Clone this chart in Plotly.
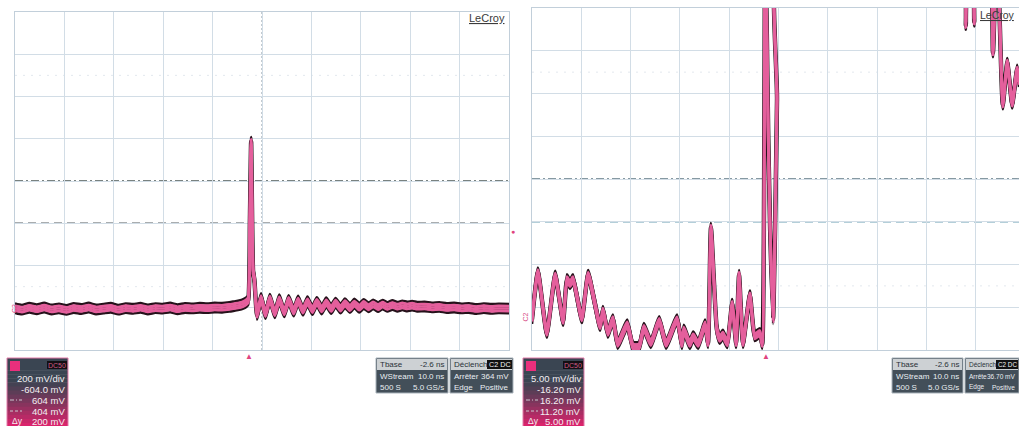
import plotly.graph_objects as go

W, H = 1019, 426

# ---------------- data ----------------
# Left screen: C2, 200 mV/div, offset -604 mV, 10 ns/div
left_time_ns = [-47.4, -46.0, -44.5, -43.0, -41.5, -40.0, -38.5, -37.0, -35.5, -34.0,
                -32.5, -31.0, -29.5, -28.0, -26.5, -25.0, -23.5, -22.0, -20.5, -19.0,
                -17.5, -16.0, -14.5, -13.0, -11.5, -10.0, -8.5, -7.0, -5.5, -4.0,
                -3.0, -2.0, -1.2, -0.6, -0.2, 0.15, 0.4, 0.8, 1.05, 1.6,
                2.4, 3.3, 4.2, 5.2, 6.1, 7.1, 8.0, 9.0, 9.9, 10.9,
                11.8, 12.8, 13.7, 14.7, 15.6, 16.6, 17.5, 18.5, 19.4, 20.4,
                21.3, 22.3, 23.2, 24.2, 25.1, 26.1, 27.0, 28.0, 29.0, 30.0,
                31.0, 32.0, 33.0, 34.0, 35.5, 37.0, 38.5, 40.0, 41.5, 43.0,
                44.5, 46.0, 47.5, 49.0, 50.5, 52.6]
left_mv = [2, -5, 4, -3, 5, -4, 1, -6, 3, -2,
           5, -4, 0, 4, -5, 2, -1, 4, -4, 2,
           0, 5, -3, 3, 1, 4, 2, 5, 4, 8,
           12, 16, 22, 30, 40, 420, 790, 175, 140, -30,
           50, -26, 47, -22, 44, -18, 41, -14, 38, -10,
           35, -7, 32, -4, 30, -2, 28, 0, 26, 2,
           24, 4, 22, 6, 20, 7, 19, 8, 17, 9,
           15, 10, 14, 9, 10, 6, 8, 3, 5, 1,
           3, -2, 2, -1, 1, 0]

# Right screen: C2, 5.00 mV/div, offset -16.20 mV, 10 ns/div (trace leaves the top of the screen)
right_time_ns = [-47.4, -46.2, -44.4, -42.7, -41.1, -40.3, -39.7, -39.1, -37.3, -36.0,
                 -33.6, -33.0, -32.0, -31.0, -30.0, -28.1, -26.9, -25.7, -24.7, -23.3,
                 -21.6, -20.2, -18.0, -17.0, -16.6, -15.4, -14.7, -13.7, -12.3, -11.7,
                 -11.1, -9.9, -9.3, -8.7, -7.8, -6.8, -6.0, -5.4, -4.6, -3.2,
                 -2.2, -1.2, -0.7, -0.1, 0.5, 0.9, 1.5, 1.9, 2.3, 2.7,
                 17.1, 37.4, 40.2, 40.6, 41.0, 41.8, 42.3, 42.7, 45.1, 46.1,
                 46.9, 48.1, 49.0, 50.0, 51.0, 51.4]
right_mv = [-0.2, 5.3, -1.8, 4.9, -0.4, 4.5, 3.9, 4.5, -0.1, 5.0,
            -1.0, 0.8, -1.8, -0.2, -3.1, -0.8, -3.4, -3.4, -1.2, -3.0,
            -0.4, -3.1, -0.2, -3.1, -1.4, -3.1, -2.2, -3.1, -0.8, -3.0,
            10.5, -1.4, -2.5, -2.0, -3.0, 1.6, -3.0, 5.0, -3.0, 2.6,
            -2.2, -1.8, -3.1, 45, 22.0, 10.3, -0.2, 10.3, 25.5, 45,
            45, 45, 45, 34.2, 45, 45, 34.6, 45, 45, 31.0,
            45, 24.9, 29.8, 25.0, 29.0, 27.5]

left_cursors_mv = [604, 404]
right_cursors_mv = [16.2, 11.2]
left_trigger_level_mv = 364
trigger_time_ns = 0.0
center_time_ns = 2.6
ns_per_div = 10
left_mv_per_div, left_center_mv = 200, 604
right_mv_per_div, right_center_mv = 5.0, 16.2

left_channel_text = ["200 mV/div", "-604.0 mV", "604 mV", "404 mV", "200 mV"]
right_channel_text = ["5.00 mV/div", "-16.20 mV", "16.20 mV", "11.20 mV", "5.00 mV"]
timebase_rows = [("Tbase", "-2.6 ns"), ("WStream", "10.0 ns"), ("500 S", "5.0 GS/s")]
left_trigger_rows = [("Déclench", ""), ("Arrêter", "364 mV"), ("Edge", "Positive")]
right_trigger_rows = [("Déclench", ""), ("Arrête", "36.70 mV"), ("Edge", "Positive")]

# ---------------- helpers ----------------
FONT = "Liberation Sans, Arial, sans-serif"
PINK = "#e45f9c"
DARK = "#26121b"


def px(x):
    return x / W


def py(y):
    return 1 - y / H


fig = go.Figure()


def add_band(t, v, d, xa, ya):
    layers = [
        ([a + d for a in v], DARK, 2.6),
        ([a - d for a in v], DARK, 2.6),
        (v, DARK, 4.4),
        ([a + d / 2 for a in v], PINK, 3.0),
        ([a - d / 2 for a in v], PINK, 3.0),
        (v, PINK, 2.4),
    ]
    for yy, c, w in layers:
        fig.add_trace(go.Scatter(x=t, y=yy, mode="lines",
                                 line=dict(color=c, width=w, shape="spline", smoothing=0.5),
                                 xaxis=xa, yaxis=ya, hoverinfo="skip", showlegend=False))


add_band(left_time_ns, left_mv, 0.11 * left_mv_per_div, "x", "y")
add_band(right_time_ns, right_mv, 0.11 * right_mv_per_div, "x2", "y2")

GRID = "#d2dde6"
FRAME = "#c2cfda"
common = dict(showgrid=True, gridcolor=GRID, gridwidth=1, zeroline=False,
              showticklabels=False, ticks="", showline=True, linecolor=FRAME,
              linewidth=1, mirror=True, fixedrange=True)

lx0 = center_time_ns - 5 * ns_per_div
fig.update_layout(
    width=W, height=H, margin=dict(l=0, r=0, t=0, b=0),
    paper_bgcolor="white", plot_bgcolor="white", showlegend=False,
    xaxis=dict(domain=[px(15), px(509)], range=[lx0, lx0 + 10 * ns_per_div],
               tick0=lx0, dtick=ns_per_div, anchor="y", **common),
    yaxis=dict(domain=[py(350), py(12)],
               range=[left_center_mv - 4 * left_mv_per_div, left_center_mv + 4 * left_mv_per_div],
               tick0=left_center_mv - 4 * left_mv_per_div, dtick=left_mv_per_div, anchor="x", **common),
    xaxis2=dict(domain=[px(532), 1.0], range=[lx0, lx0 + 487 / 49.3 * ns_per_div],
                tick0=lx0, dtick=ns_per_div, anchor="y2", **common),
    yaxis2=dict(domain=[py(350), py(8)],
                range=[right_center_mv - 4 * right_mv_per_div, right_center_mv + 4 * right_mv_per_div],
                tick0=right_center_mv - 4 * right_mv_per_div, dtick=right_mv_per_div, anchor="x2", **common),
)

# cursors
cursor_dash = ["8px,3px,2px,3px", "8px,5px"]
for xa, ya, vals, cols in (("x", "y", left_cursors_mv, ["#4e5a57", "#555c60"]),
                           ("x2", "y2", right_cursors_mv, ["#5f7884", "#6b9fb3"])):
    for v, c, st in zip(vals, cols, cursor_dash):
        fig.add_shape(type="line", xref=f"{xa} domain", x0=0, x1=1, yref=ya, y0=v, y1=v,
                      line=dict(color=c, width=1.4, dash=st), layer="below")
    fig.add_shape(type="line", xref=xa, x0=center_time_ns, x1=center_time_ns,
                  yref=f"{ya} domain", y0=0, y1=1,
                  line=dict(color="#8796a2", width=1, dash="2px,2px"), layer="below")

# faint dotted rows (scan artefact)
for xa, ya, c0, pdiv in (("x", "y", left_center_mv, left_mv_per_div),
                         ("x2", "y2", right_center_mv, right_mv_per_div)):
    for v in (c0 + 2.5 * pdiv, c0 - 2.5 * pdiv):
        fig.add_shape(type="line", xref=f"{xa} domain", x0=0, x1=1, yref=ya, y0=v, y1=v,
                      line=dict(color="#e3e8ee", width=1, dash="2px,6px"), layer="below")


def txt(x, y, s, color="#f0f0f0", size=8.0, anchor="left", xref="paper", yref="paper", angle=0):
    fig.add_annotation(x=x, y=y, xref=xref, yref=yref, text=s, showarrow=False,
                       xanchor=anchor, yanchor="middle", textangle=angle,
                       font=dict(family=FONT, size=size, color=color))


def rect(x0, y0, x1, y1, fill, line=None, lw=0):
    fig.add_shape(type="rect", xref="paper", yref="paper",
                  x0=px(x0), x1=px(x1), y0=py(y1), y1=py(y0), fillcolor=fill,
                  line=dict(color=line or fill, width=lw), layer="above")


# LeCroy logos
fig.add_annotation(x=px(507), y=py(18), xref="paper", yref="paper", text="<u>LeCroy</u>",
                   showarrow=False, xanchor="right", yanchor="middle",
                   font=dict(family=FONT, size=11, color="#3b3b3b"))
fig.add_annotation(x=px(1017), y=py(15), xref="paper", yref="paper", text="<u>LeCroy</u>",
                   showarrow=False, xanchor="right", yanchor="middle",
                   font=dict(family=FONT, size=10.5, color="#3b3b3b"))

# trigger position triangles and level marker
for xa in ("x", "x2"):
    fig.add_annotation(x=trigger_time_ns, y=py(355), xref=xa, yref="paper", text="▲",
                       showarrow=False, font=dict(size=8, color="#e0447f"), yanchor="middle")
fig.add_annotation(x=px(513), y=left_trigger_level_mv, xref="paper", yref="y", text="●",
                   showarrow=False, font=dict(size=7, color="#e0447f"))
# ground markers
fig.add_annotation(x=px(9), y=0, xref="paper", yref="y", text="C2", textangle=-90, showarrow=False,
                   font=dict(family=FONT, size=7, color="#d8508a"))
fig.add_annotation(x=px(526), y=0, xref="paper", yref="y2", text="C2", textangle=-90, showarrow=False,
                   font=dict(family=FONT, size=7, color="#d8508a"))


def channel_box(x0, lines):
    x1 = x0 + 61
    y0, y1 = 358, 427
    n = 17
    top = (58, 69, 82)
    bot = (218, 36, 108)
    for i in range(n):
        ya = y0 + (y1 - y0) * i / n
        yb = y0 + (y1 - y0) * (i + 1) / n + 0.5
        g = max(0.0, (i / (n - 1) - 0.3) / 0.7) ** 1.2
        c = tuple(int(top[k] + (bot[k] - top[k]) * g) for k in range(3))
        rect(x0, ya, x1, min(yb, y1), "rgb(%d,%d,%d)" % c)
    fig.add_shape(type="rect", xref="paper", yref="paper", x0=px(x0), x1=px(x1), y0=py(y1), y1=py(y0),
                  line=dict(color="#e27aa8", width=1), layer="above")
    rect(x0 + 3, 361, x0 + 13, 371, "#ea2f7c")
    rect(x1 - 21, 361, x1 - 1, 369, "#121014")
    txt(px(x1 - 11), py(365), "DC50", color="#d05a85", size=7, anchor="center")
    ys = [378, 389, 400, 411, 421]
    for s, yy in zip(lines, ys):
        txt(px(x1 - 1), py(yy), s, color="#f4eef2", size=9.5, anchor="right")
    fig.add_shape(type="line", xref="paper", yref="paper", x0=px(x0 + 3), x1=px(x0 + 15),
                  y0=py(400), y1=py(400), line=dict(color="#c9c9cf", width=1, dash="4px,2px,1px,2px"), layer="above")
    fig.add_shape(type="line", xref="paper", yref="paper", x0=px(x0 + 3), x1=px(x0 + 15),
                  y0=py(411), y1=py(411), line=dict(color="#c9c9cf", width=1, dash="3px,2px"), layer="above")
    txt(px(x0 + 3), py(421), "Δy", color="#f4eef2", size=8.5, anchor="left")


def info_box(x0, x1, rows, badge=False, size=8.0, badge_w=25):
    rect(x0, 358, x1, 393, "#434f59", line="#a9b3bb", lw=1)
    rect(x0 + 1, 359, x1 - 1, 370, "#cdd1d4")
    ys = [364.5, 376, 387]
    for i, ((a, b), yy) in enumerate(zip(rows, ys)):
        col = "#2a3138" if i == 0 else "#e9eef2"
        txt(px(x0 + 2), py(yy), a, color=col, size=size, anchor="left")
        if b:
            txt(px(x1 - 2), py(yy), b, color=col, size=size, anchor="right")
    if badge:
        rect(x1 - 1 - badge_w, 360, x1 - 1, 369, "#111111")
        txt(px(x1 - 1 - badge_w / 2), py(364.5), "C2 DC", color="#f2f2f2",
            size=7.2 * badge_w / 25, anchor="center")


channel_box(7, left_channel_text)
channel_box(523, right_channel_text)
info_box(376, 448, timebase_rows)
info_box(450, 513, left_trigger_rows, badge=True)
info_box(892, 963, timebase_rows)
info_box(965, 1019, right_trigger_rows, badge=True, size=6.5, badge_w=22)

fig.write_html("out.html", config={"displayModeBar": False},
               post_script="document.body.style.margin='0px';")
